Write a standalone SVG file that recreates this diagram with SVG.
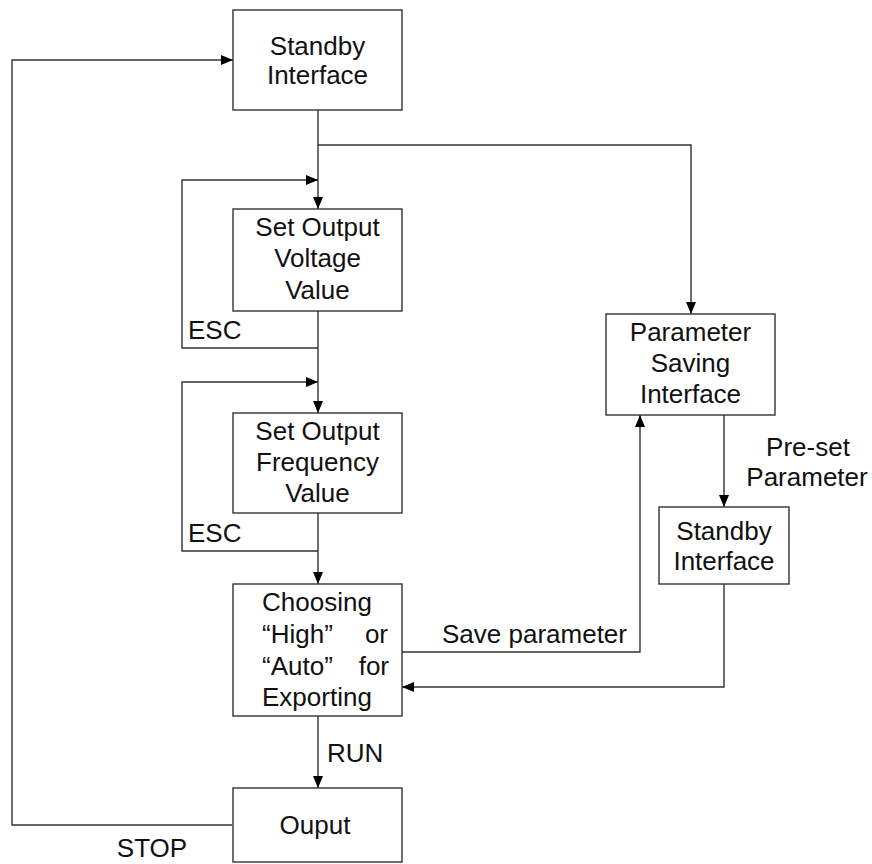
<svg xmlns="http://www.w3.org/2000/svg" width="872" height="864" viewBox="0 0 872 864">
<style>
.box{fill:#fff;stroke:#333;stroke-width:1.4}
.ln{fill:none;stroke:#333;stroke-width:1.4}
text{font-family:"Liberation Sans",Arial,sans-serif;font-size:26px;fill:#111}
.c{text-anchor:middle}
.e{text-anchor:end}
</style>
<defs>
<marker id="ah" viewBox="0 0 12 10" refX="12" refY="5" markerWidth="12" markerHeight="10" markerUnits="userSpaceOnUse" orient="auto">
<path d="M0,0 L12,5 L0,10 Z" fill="#000"/>
</marker>
</defs>
<rect width="872" height="864" fill="#fff"/>
<g id="connectors">
<path class="ln" d="M232,825 H12 V60 H233" marker-end="url(#ah)"/>
<path class="ln" d="M318,110 V209" marker-end="url(#ah)"/>
<path class="ln" d="M318,145 H691 V314" marker-end="url(#ah)"/>
<path class="ln" d="M318,348 H182 V180 H318" marker-end="url(#ah)"/>
<path class="ln" d="M318,311 V413" marker-end="url(#ah)"/>
<path class="ln" d="M318,551 H182 V382 H318" marker-end="url(#ah)"/>
<path class="ln" d="M318,513 V584" marker-end="url(#ah)"/>
<path class="ln" d="M318,716 V788" marker-end="url(#ah)"/>
<path class="ln" d="M402,652 H640 V415" marker-end="url(#ah)"/>
<path class="ln" d="M724,415 V507" marker-end="url(#ah)"/>
<path class="ln" d="M724,584 V687 H402" marker-end="url(#ah)"/>
<text x="188" y="339">ESC</text>
<text x="188" y="542">ESC</text>
<text x="442" y="643">Save parameter</text>
<text x="327" y="762">RUN</text>
<text x="152" y="857" class="c">STOP</text>
<text x="808" y="456" class="c">Pre-set</text>
<text x="807" y="486" class="c">Parameter</text>
</g>
<g id="standby1">
<rect class="box" x="233" y="10" width="169" height="100"/>
<text x="317.5" y="55" class="c">Standby</text>
<text x="317.5" y="84" class="c">Interface</text>
</g>
<g id="voltage">
<rect class="box" x="233" y="209" width="169" height="102"/>
<text x="317.5" y="236" class="c">Set Output</text>
<text x="317.5" y="267" class="c">Voltage</text>
<text x="317.5" y="299" class="c">Value</text>
</g>
<g id="frequency">
<rect class="box" x="233" y="413" width="169" height="100"/>
<text x="317.5" y="440" class="c">Set Output</text>
<text x="317.5" y="471" class="c">Frequency</text>
<text x="317.5" y="502" class="c">Value</text>
</g>
<g id="choosing">
<rect class="box" x="233" y="584" width="169" height="132"/>
<text x="262" y="611">Choosing</text>
<text x="262" y="643">“High”</text>
<text x="388" y="643" class="e">or</text>
<text x="262" y="675">“Auto”</text>
<text x="389" y="675" class="e">for</text>
<text x="262" y="706">Exporting</text>
</g>
<g id="output">
<rect class="box" x="233" y="788" width="169" height="74"/>
<text x="315" y="834" class="c">Ouput</text>
</g>
<g id="paramsaving">
<rect class="box" x="606" y="314" width="169" height="101"/>
<text x="690.5" y="341" class="c">Parameter</text>
<text x="690.5" y="372" class="c">Saving</text>
<text x="690.5" y="403" class="c">Interface</text>
</g>
<g id="standby2">
<rect class="box" x="659" y="507" width="130" height="77"/>
<text x="724" y="540" class="c">Standby</text>
<text x="724" y="570" class="c">Interface</text>
</g>
</svg>
